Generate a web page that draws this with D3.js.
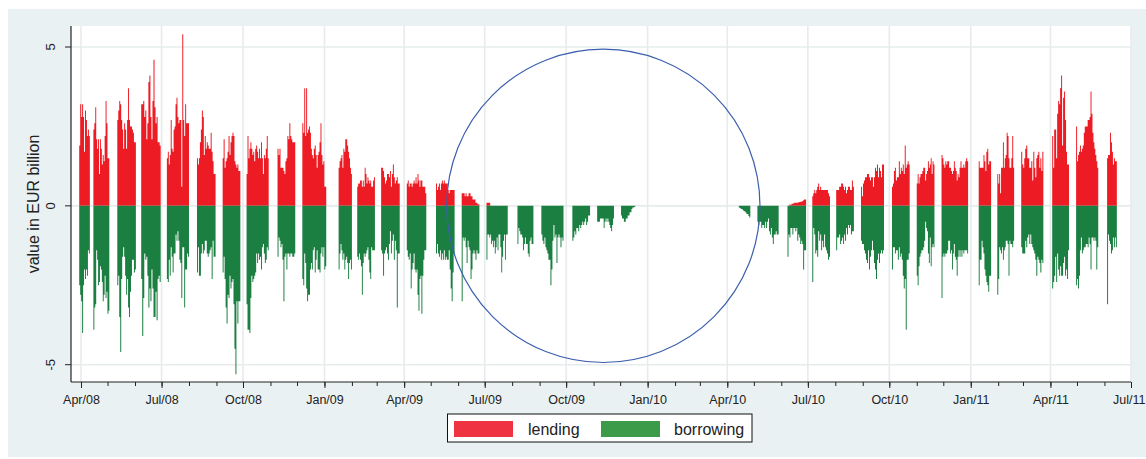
<!DOCTYPE html>
<html>
<head>
<meta charset="utf-8">
<script src="https://cdn.jsdelivr.net/npm/d3@7"></script>
<style>
  html, body { margin: 0; padding: 0; background: #fff; }
  svg { display: block; font-family: "Liberation Sans", Arial, sans-serif; }
</style>
</head>
<body>
<div id="chart"></div>
<script>
// maintenance-period blocks (first and last day shown)
const periodStart = [
  "2008-03-30","2008-04-15","2008-05-12","2008-06-08","2008-07-07","2008-08-10","2008-09-08","2008-10-05",
  "2008-11-09","2008-12-07","2009-01-17","2009-02-07","2009-03-06","2009-04-04","2009-05-07","2009-06-05",
  "2009-07-03","2009-08-07","2009-09-03","2009-10-08","2009-11-05","2009-12-02","2010-04-14","2010-05-05",
  "2010-06-08","2010-07-06","2010-08-02","2010-08-30","2010-10-04","2010-11-01","2010-11-29","2011-01-10",
  "2011-01-31","2011-02-27","2011-04-03","2011-04-30","2011-06-04"
];
const periodEnd = [
  "2008-04-11","2008-05-03","2008-06-02","2008-06-30","2008-08-01","2008-08-31","2008-09-28","2008-10-30",
  "2008-11-29","2009-01-03","2009-02-01","2009-02-27","2009-03-27","2009-04-26","2009-05-28","2009-06-25",
  "2009-07-27","2009-08-25","2009-09-28","2009-10-28","2009-11-24","2009-12-18","2010-04-27","2010-05-29",
  "2010-06-29","2010-07-26","2010-08-22","2010-09-25","2010-10-24","2010-11-21","2010-12-29","2011-01-24",
  "2011-02-19","2011-03-24","2011-04-22","2011-05-25","2011-06-15"
];

// EUR billion, one list per block
const lending = [
  [1.9,3.2,2.8,3.2,2.8,1.7,3.0,2.7,2.2,2.4,2.2],
  [2.4,2.6,3.1,2.1,1.8,2.1,1.0,2.1,1.8,1.3,1.6,1.4,2.2,3.3,2.6,1.5,1.5],
  [2.7,3.0,3.3,3.2,2.7,2.4,1.8,2.6,2.4,1.8,2.7,3.7,2.7,2.5,2.5,2.4,2.3,2.0,2.0],
  [3.2,3.2,3.3,2.8,3.0,2.1,2.6,3.9,4.1,2.8,2.1,3.3,4.6,3.1,2.6,2.8,2.0,2.0,1.9],
  [1.5,1.7,1.3,1.6,2.7,1.8,1.7,2.4,2.5,3.2,3.4,2.8,2.6,2.7,2.7,0.6,5.4,2.7,2.2,3.2,2.6,2.6,2.6],
  [1.5,1.3,1.5,2.0,2.4,3.0,2.8,1.6,2.2,1.8,2.0,1.9,1.8,1.8,2.3,1.7,1.4,1.0,1.0],
  [1.5,2.1,1.2,1.4,1.5,1.7,2.2,1.6,2.0,2.2,2.3,2.2,1.4,1.3,1.2,1.3,1.1,1.1],
  [1.0,2.2,1.5,1.8,2.0,1.8,1.6,1.7,1.4,1.8,1.9,1.7,1.5,1.8,1.5,2.0,1.5,1.0,1.6,1.5,1.8,2.2,1.5],
  [1.8,1.6,1.8,1.2,1.2,1.2,1.1,1.0,1.4,1.5,2.2,2.1,2.6,2.2,2.1,2.0,2.0,2.0],
  [2.6,2.3,3.7,2.2,3.7,2.3,2.4,2.5,2.3,1.8,1.6,1.5,1.8,1.9,1.6,1.2,1.6,1.7,2.0,2.6,1.6,1.3,1.4,0.6,0.6],
  [1.2,1.4,1.5,1.6,1.2,1.8,1.7,2.1,2.1,1.9,1.7,1.5,1.2,1.0],
  [0.6,0.7,0.7,0.8,0.8,0.6,0.8,0.6,1.2,1.0,0.7,0.9,0.8,0.7,0.8,0.6,0.6,0.8,0.9],
  [1.2,1.2,1.1,0.9,0.7,0.8,1.0,1.0,0.9,1.1,0.6,1.0,1.3,0.9,0.7,0.8,0.9,0.7,0.7],
  [0.7,0.8,0.6,0.7,0.7,0.6,0.7,0.8,0.7,0.9,0.7,1.0,0.8,0.6,0.8,0.8,0.6,0.6,0.6,0.4],
  [0.7,0.5,0.6,0.7,0.5,0.7,0.8,0.7,0.8,0.7,0.7,0.7,0.5,0.4,0.5,0.5,0.5,0.5,0.5],
  [0.4,0.4,0.4,0.3,0.4,0.3,0.3,0.4,0.4,0.3,0.3,0.2,0.2,0.2,0.1,0.1,0.05,0.05],
  [0.1,0.1,0.1,0.1,0,0,0,0,0,0,0,0,0,0,0,0,0,0,0,0,0,0,0],
  [], [], [], [], [], [], [],
  [0,0,0.05,0.03,0.07,0.07,0.08,0.1,0.1,0.1,0.1,0.11,0.12,0.13,0.13,0.15,0.18,0.2,0.2],
  [0.3,0.4,0.5,0.4,0.5,0.6,0.7,0.5,0.6,0.5,0.5,0.5,0.5,0.5,0.5,0.5,0.4,0.3],
  [0.5,0.5,0.5,0.6,0.6,0.7,0.7,0.6,0.5,0.6,0.4,0.5,0.6,0.6,0.5,0.5,0.8,0.6],
  [0.6,0.3,0.7,0.8,0.9,0.9,1.0,1.0,0.9,0.8,0.9,0.9,0.6,0.9,1.2,1.1,1.3,0.9,1.2,1.1,0.9,1.3,1.3],
  [0.6,0.7,1.1,1.2,0.8,0.9,0.9,1.4,1.0,1.2,1.1,1.3,1.0,1.9,1.2,1.3,1.4,1.3],
  [0.7,1.0,0.7,0.9,1.0,1.0,1.1,1.2,1.2,0.8,1.0,1.1,1.4,1.2,1.3,1.5,1.0,1.4,1.3],
  [1.6,1.5,1.3,1.2,1.4,1.3,1.4,1.4,1.2,1.2,1.1,1.0,1.1,1.4,1.2,1.1,0.8,1.0,0.9,1.2,1.4,1.2,1.2,1.3,1.2,1.4,1.5,1.4],
  [1.4,1.2,1.2,1.2,1.2,1.6,1.4,1.1,1.7,1.8,1.3,1.4,1.4],
  [1.0,0.7,1.0,0.4,1.2,1.2,2.0,1.2,1.5,1.6,2.3,2.2,1.5,1.2,1.2,1.5,2.2,1.2],
  [1.7,1.3,1.2,1.5,1.8,1.9,1.5,1.5,1.2,1.2,1.4,0.8,1.7,1.2,0.9,1.5,1.6,1.7,1.2,1.5,1.1,1.7],
  [2.2,1.2,2.4,2.4,1.5,2.9,3.3,3.2,3.7,4.1,1.9,3.4,3.6,2.7,1.7,1.3,1.3],
  [2.5,1.4,1.6,1.7,1.9,1.7,1.8,1.9,2.3,2.5,2.5,2.5,2.7,2.7,2.8,3.6,2.9,2.3,2.0,1.8,1.6,1.4,1.2],
  [1.5,1.6,1.6,2.3,2.0,1.7,1.3,1.5,1.4,1.4]
];
const borrowing = [
  [-2.5,-2.8,-3.0,-4.0,-2.5,-2.0,-2.3,-2.0,-2.2,-1.4,-1.5],
  [-3.9,-3.2,-3.1,-1.4,-1.7,-2.5,-2.4,-1.9,-2.0,-2.4,-3.0,-2.8,-2.2,-2.9,-2.7,-3.4,-3.3],
  [-2.5,-2.2,-3.5,-4.6,-2.3,-1.6,-1.3,-1.6,-2.2,-2.8,-2.3,-3.2,-3.5,-2.7,-2.2,-1.7,-1.7,-2.1,-2.0],
  [-2.3,-4.1,-2.9,-1.5,-1.7,-1.6,-2.2,-3.2,-2.6,-3.0,-2.0,-2.6,-3.5,-3.5,-2.7,-3.6,-2.3,-2.2,-2.4],
  [-2.3,-2.4,-1.7,-2.2,-1.3,-1.6,-2.1,-1.5,-1.5,-0.9,-1.1,-0.8,-1.1,-1.7,-1.8,-2.9,-1.3,-1.3,-3.2,-2.0,-2.0,-1.5,-1.6],
  [-2.1,-1.3,-2.2,-2.2,-1.5,-1.2,-1.5,-1.4,-1.1,-1.1,-1.5,-1.6,-1.5,-1.4,-1.3,-2.3,-1.1,-1.6,-1.6],
  [-2.1,-1.6,-2.3,-3.2,-3.7,-2.8,-2.9,-2.2,-2.6,-2.4,-2.3,-3.1,-4.5,-5.3,-3.0,-3.7,-3.0,-3.0],
  [-3.1,-3.9,-3.9,-4.0,-2.9,-2.2,-2.4,-2.3,-2.2,-2.1,-1.5,-1.8,-1.5,-1.7,-1.6,-2.0,-1.3,-1.2,-1.5,-1.8,-1.7,-1.3,-1.4],
  [-1.6,-1.0,-1.1,-1.3,-1.2,-1.7,-3.0,-1.6,-1.5,-2.0,-1.5,-1.5,-1.6,-1.5,-1.5,-1.6,-1.6,-1.5],
  [-2.3,-2.5,-1.5,-1.8,-2.6,-3.0,-2.8,-2.8,-2.0,-1.8,-2.0,-1.4,-1.3,-2.1,-1.7,-1.4,-2.0,-2.0,-2.1,-1.5,-1.3,-1.6,-1.3,-2.0,-1.9],
  [-2.0,-1.5,-1.2,-1.4,-1.7,-1.5,-2.0,-1.7,-1.6,-1.8,-2.3,-1.8,-1.7,-2.0],
  [-1.6,-1.7,-1.5,-1.7,-1.9,-2.8,-1.8,-1.5,-1.6,-1.5,-1.4,-1.3,-1.7,-2.1,-2.3,-1.3,-1.4,-1.4,-1.4],
  [-1.4,-1.5,-2.2,-1.5,-1.4,-1.3,-1.5,-1.7,-1.2,-0.8,-1.5,-1.1,-0.9,-1.7,-1.1,-1.4,-3.2,-1.5,-1.5],
  [-1.4,-1.6,-1.7,-1.5,-2.6,-2.0,-1.8,-1.5,-2.0,-2.1,-2.0,-2.8,-3.3,-2.3,-2.2,-3.4,-2.2,-1.7,-1.4,-1.4],
  [-1.5,-1.2,-1.5,-1.6,-1.4,-1.7,-1.5,-1.7,-1.4,-1.7,-1.6,-1.7,-1.7,-1.4,-2.0,-2.6,-3.0,-2.1,-1.5],
  [-3.0,-1.0,-1.1,-1.0,-1.3,-1.8,-1.1,-1.3,-1.4,-2.3,-2.0,-1.5,-1.4,-1.5,-1.7,-1.4,-1.5,-1.5],
  [-1.7,-0.9,-0.9,-1.0,-0.9,-1.2,-1.1,-1.3,-1.1,-1.5,-1.3,-1.0,-1.4,-0.9,-0.9,-1.3,-2.1,-1.6,-1.1,-0.9,-1.7,-0.9,-0.9],
  [-1.2,-0.7,-0.8,-0.9,-0.9,-1.0,-1.4,-1.2,-1.0,-1.2,-1.2,-1.5,-1.6,-1.1,-1.0,-1.2,-1.2],
  [-0.9,-1.1,-1.2,-1.0,-1.3,-1.4,-1.5,-1.7,-1.7,-2.5,-2.0,-1.1,-0.6,-1.0,-0.9,-1.8,-1.0,-0.9,-1.0,-1.3,-1.0,-1.1],
  [-1.1,-1.0,-0.8,-0.9,-0.7,-0.7,-0.8,-0.6,-0.7,-0.6,-0.5,-0.6,-0.5,-0.4,-0.6,-0.5,-0.3,-0.3],
  [-0.5,-0.5,-0.5,-0.4,-0.4,-0.4,-0.4,-0.7,-0.5,-0.4,-0.5,-0.4,-0.5,-0.6,-0.7,-0.8,-0.6,-0.4],
  [-0.3,-0.4,-0.4,-0.5,-0.5,-0.4,-0.4,-0.3,-0.3,-0.2,-0.2,-0.1,-0.05,-0.05,-0.03],
  [-0.05,-0.07,-0.1,-0.1,-0.14,-0.16,-0.18,-0.21,-0.26,-0.26,-0.32,-0.37],
  [-0.5,-0.6,-0.5,-0.5,-0.7,-0.6,-0.6,-0.7,-0.5,-0.7,-0.5,-0.4,-0.8,-0.9,-0.7,-1.0,-1.2,-0.9,-0.9,-0.8,-0.9,-0.9],
  [-1.6,-0.9,-1.0,-0.7,-0.7,-0.9,-0.7,-0.7,-0.8,-0.7,-1.1,-0.9,-1.0,-1.2,-1.1,-1.2,-2.0,-1.4,-1.4],
  [-2.4,-0.7,-0.9,-1.5,-1.4,-1.6,-0.8,-1.1,-0.9,-1.4,-1.1,-1.3,-0.9,-1.3,-1.4,-1.5,-1.7,-1.6],
  [-1.4,-1.0,-1.0,-0.9,-1.2,-1.1,-1.0,-1.2,-0.9,-1.1,-0.7,-0.9,-0.6,-0.7,-0.6,-0.9,-0.8,-0.8],
  [-1.1,-1.2,-1.2,-1.4,-1.5,-1.7,-1.8,-1.4,-2.0,-1.6,-1.4,-1.1,-1.4,-1.8,-2.0,-2.3,-1.7,-1.5,-1.8,-1.5,-1.4,-1.5,-1.4],
  [-2.0,-1.3,-1.3,-1.5,-1.4,-1.4,-1.7,-1.3,-1.6,-1.5,-1.7,-2.2,-2.6,-2.3,-3.9,-1.7,-1.7,-1.5],
  [-2.2,-2.5,-1.9,-1.6,-1.5,-1.4,-1.4,-1.3,-1.1,-0.5,-0.7,-0.8,-1.5,-1.8,-1.0,-1.9,-1.3,-1.2,-1.3],
  [-2.9,-1.6,-1.5,-1.6,-1.5,-1.5,-1.4,-1.1,-1.1,-1.5,-1.4,-2.0,-1.5,-1.2,-1.6,-1.7,-2.2,-1.6,-1.4,-1.6,-1.4,-1.6,-1.4,-1.5,-1.4,-1.4,-1.4,-1.5],
  [-2.5,-1.7,-1.7,-1.1,-1.3,-1.5,-2.0,-2.2,-2.4,-2.5,-2.7,-2.2,-2.2],
  [-2.8,-2.3,-1.3,-1.4,-1.5,-1.3,-1.7,-1.4,-1.3,-1.1,-1.1,-1.2,-2.2,-1.1,-1.2,-1.2,-1.3,-1.1],
  [-1.3,-1.5,-1.5,-1.5,-1.1,-1.3,-1.0,-0.9,-1.2,-0.9,-1.2,-1.3,-1.4,-1.5,-1.7,-2.2,-1.6,-1.7,-1.8,-2.1,-1.7,-1.8],
  [-2.6,-2.4,-2.2,-1.6,-2.4,-1.5,-2.0,-2.2,-1.9,-2.2,-2.2,-1.8,-1.6,-2.2,-2.0,-2.3,-1.4],
  [-2.5,-2.3,-2.6,-2.2,-1.4,-1.0,-1.5,-1.4,-1.3,-1.3,-1.2,-1.2,-1.3,-1.0,-1.2,-2.0,-1.0,-1.0,-1.1,-1.0,-1.1,-2.0,-1.3],
  [-3.1,-0.9,-1.1,-1.2,-1.5,-1.4,-1.0,-1.3,-1.0,-1.3]
];

const yTicks = [-5, 0, 5];
const seriesNames = ["lending", "borrowing"];
// circled window: centre date, radius in EUR bn
const circleCentre = "2009-11-12";
const circleRadius = 4.93;

function draw() {
  const width = 1146;
  const height = 459;
  const parse = d3.timeParse("%Y-%m-%d");
  const colors = { lending: "#ed1c24", borrowing: "#1b7f41" };
  const legendColors = { lending: "#ef3340", borrowing: "#3c9b48" };

  const svg = d3.select("#chart")
    .append("svg")
    .attr("width", width)
    .attr("height", height);

  // outer panel
  svg.append("rect")
    .attr("x", 8).attr("y", 9)
    .attr("width", width - 8).attr("height", height - 11)
    .attr("fill", "#eaf1f2");

  const plot = { left: 71, right: 1131, top: 26, bottom: 382 };
  svg.append("rect")
    .attr("x", plot.left).attr("y", plot.top)
    .attr("width", plot.right - plot.left)
    .attr("height", plot.bottom - plot.top)
    .attr("fill", "#fff");

  const x = d3.scaleTime()
    .domain([new Date(2008, 3, 1), new Date(2011, 6, 1)])
    .range([81, 1131]);
  const y = d3.scaleLinear()
    .domain([-5, 5])
    .range([364.7, 47]);

  const quarters = d3.timeMonth.every(3).range(new Date(2008, 3, 1), new Date(2011, 6, 2));
  const months = d3.timeMonth.range(new Date(2008, 3, 1), new Date(2011, 6, 2));

  // grid
  const grid = svg.append("g").attr("stroke", "#e6ecec").attr("stroke-width", 1.6);
  grid.selectAll("line.v").data(quarters).join("line")
    .attr("class", "v")
    .attr("x1", d => x(d)).attr("x2", d => x(d))
    .attr("y1", plot.top).attr("y2", plot.bottom);
  grid.selectAll("line.h").data(yTicks).join("line")
    .attr("class", "h")
    .attr("x1", plot.left).attr("x2", plot.right)
    .attr("y1", d => y(d)).attr("y2", d => y(d));

  // bars: one stepped area per block so neighbouring days don't leave seams
  const bars = svg.append("g");
  const stepArea = d3.area()
    .x(d => d.x)
    .y0(y(0))
    .y1(d => y(d.v))
    .curve(d3.curveStepAfter);

  periodStart.forEach((s, i) => {
    const x0 = x(parse(s));
    const x1 = x(parse(periodEnd[i]));
    [["lending", lending[i]], ["borrowing", borrowing[i]]].forEach(([name, vals]) => {
      if (!vals.length) return;
      const w = (x1 - x0) / vals.length;
      const pts = vals.map((v, j) => ({ x: x0 + j * w, v }));
      pts.push({ x: x1, v: vals[vals.length - 1] });
      bars.append("path")
        .attr("d", stepArea(pts))
        .attr("fill", colors[name]);
    });
  });

  // circle annotation
  const r = y(0) - y(circleRadius);
  svg.append("circle")
    .attr("cx", x(parse(circleCentre)))
    .attr("cy", y(0))
    .attr("r", r)
    .attr("fill", "none")
    .attr("stroke", "#3b5fae")
    .attr("stroke-width", 1.2);

  // x axis
  const xAxis = svg.append("g")
    .attr("transform", `translate(0,${plot.bottom})`)
    .call(d3.axisBottom(x).tickValues(quarters).tickSize(6).tickFormat(d3.timeFormat("%b/%y")));
  xAxis.select(".domain").remove();
  xAxis.selectAll(".tick line").attr("stroke", "#222");
  xAxis.selectAll(".tick text")
    .attr("font-size", "12.5px")
    .attr("font-family", "Liberation Sans, Arial, sans-serif")
    .attr("fill", "#222")
    .attr("dy", null)
    .attr("y", 22);
  // last label sits against the right edge
  xAxis.selectAll(".tick:last-of-type text")
    .attr("text-anchor", "end")
    .attr("x", 14);

  const xMinor = svg.append("g")
    .attr("transform", `translate(0,${plot.bottom})`)
    .call(d3.axisBottom(x).tickValues(months).tickSize(4).tickFormat(""));
  xMinor.select(".domain").remove();
  xMinor.selectAll(".tick line").attr("stroke", "#222");

  svg.append("line")
    .attr("x1", plot.left).attr("x2", plot.right)
    .attr("y1", plot.bottom).attr("y2", plot.bottom)
    .attr("stroke", "#222").attr("stroke-width", 1.2);

  // y axis
  svg.append("line")
    .attr("x1", plot.left).attr("x2", plot.left)
    .attr("y1", plot.top).attr("y2", plot.bottom)
    .attr("stroke", "#222").attr("stroke-width", 1.2);

  const yAxis = svg.append("g").attr("class", "yaxis");
  yAxis.selectAll("line").data(yTicks).join("line")
    .attr("x1", plot.left - 6).attr("x2", plot.left)
    .attr("y1", d => y(d)).attr("y2", d => y(d))
    .attr("stroke", "#222");
  yAxis.selectAll("text").data(yTicks).join("text")
    .attr("transform", d => `translate(55,${y(d)}) rotate(-90)`)
    .attr("text-anchor", "middle")
    .attr("font-size", "13px")
    .attr("fill", "#222")
    .text(d => d);

  svg.append("text")
    .attr("transform", `translate(38.5,204) rotate(-90)`)
    .attr("text-anchor", "middle")
    .attr("font-size", "16px")
    .attr("fill", "#222")
    .text("value in EUR billion");

  // legend
  const legend = svg.append("g");
  legend.append("rect")
    .attr("x", 447.5).attr("y", 414)
    .attr("width", 304.5).attr("height", 28)
    .attr("fill", "#fff")
    .attr("stroke", "#111").attr("stroke-width", 1);
  const items = [
    { name: seriesNames[0], sx: 454, tx: 528 },
    { name: seriesNames[1], sx: 601, tx: 674 }
  ];
  items.forEach(it => {
    legend.append("rect")
      .attr("x", it.sx).attr("y", 421)
      .attr("width", 59).attr("height", 16)
      .attr("fill", legendColors[it.name]);
    legend.append("text")
      .attr("x", it.tx).attr("y", 434.5)
      .attr("font-size", "16px")
      .attr("fill", "#222")
      .text(it.name);
  });
}

draw();
</script>
</body>
</html>
